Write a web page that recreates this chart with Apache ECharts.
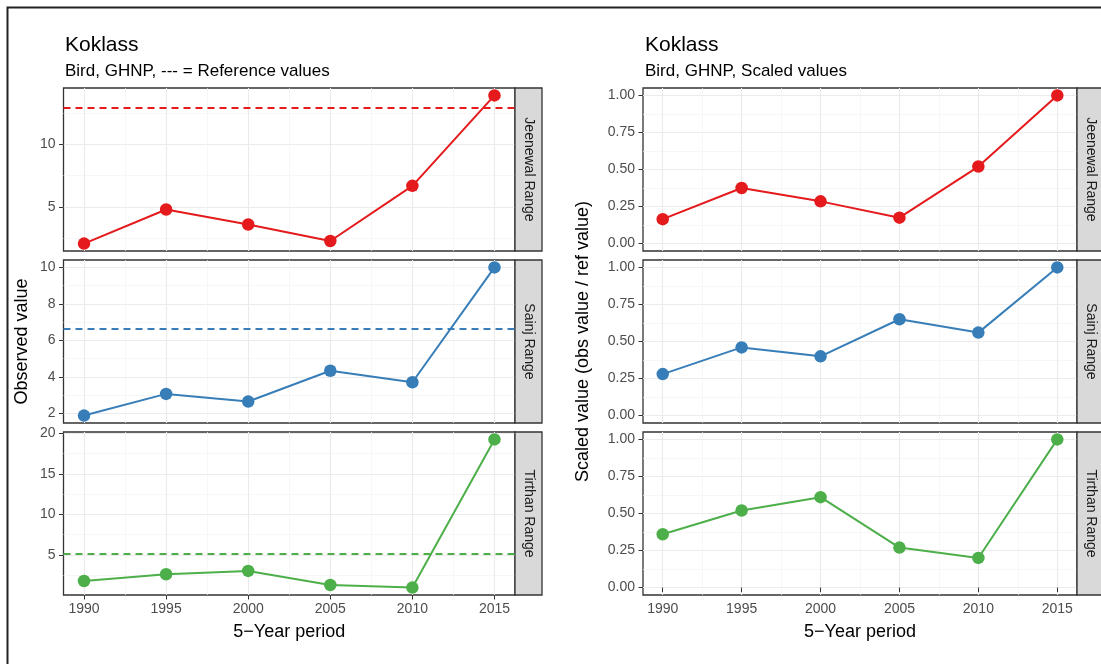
<!DOCTYPE html>
<html><head><meta charset="utf-8">
<script src="https://cdn.jsdelivr.net/npm/echarts@6/dist/echarts.min.js"></script>
<style>html,body{margin:0;padding:0;background:#fff}#c{width:1101px;height:664px}</style>
</head><body><div id="c"></div>
<script>
// ---------- data ----------
const years = [1990, 1995, 2000, 2005, 2010, 2015];
const rangeNames = ['Jeenewal Range', 'Sainj Range', 'Tirthan Range'];
const obsJeenewal = [2.07, 4.79, 3.59, 2.28, 6.68, 13.89];
const obsSainj    = [1.87, 3.06, 2.64, 4.33, 3.70, 10.0];
const obsTirthan  = [1.77, 2.60, 3.01, 1.27, 0.95, 19.27];
const refValues   = [12.93, 6.64, 5.08];
const scaledJeenewal = [0.165, 0.375, 0.285, 0.175, 0.52, 1.0];
const scaledSainj    = [0.28, 0.46, 0.40, 0.65, 0.56, 1.0];
const scaledTirthan  = [0.36, 0.52, 0.61, 0.27, 0.20, 1.0];
const obsTickLabels = [[5, 10], [2, 4, 6, 8, 10], [5, 10, 15, 20]];
const scaledTickLabels = [0, 0.25, 0.5, 0.75, 1.0];
const xTickLabels = years;
const seriesColors = ['#E41A1C', '#377EB8', '#4DAF4A'];

// ---------- layout ----------
const FONT = '"Liberation Sans", Arial, Helvetica, sans-serif';
const panelTops = [88, 260, 432];
const panelH = 163;
const cols = [{x: 63.5, w: 451.5}, {x: 643, w: 434}];
const stripW = 27;

const obsSets = [obsJeenewal, obsSainj, obsTirthan];
const scaledSets = [scaledJeenewal, scaledSainj, scaledTirthan];

const xSpan = years[years.length - 1] - years[0];
const xMin = years[0] - 0.05 * xSpan, xMax = years[years.length - 1] + 0.05 * xSpan;

function minorOf(major, lo, hi) {
  const step = major.length > 1 ? major[1] - major[0] : 1;
  const ext = [major[0] - step].concat(major, [major[major.length - 1] + step]);
  const out = [];
  for (let i = 0; i < ext.length - 1; i++) {
    const m = (ext[i] + ext[i + 1]) / 2;
    if (m > lo && m < hi) out.push(m);
  }
  return out;
}
const xMinor = minorOf(xTickLabels, xMin, xMax);

const grids = [], xAxes = [], yAxes = [], series = [], graphics = [];

function addPanel(col, row, values, lo, hi, yMajor, fmt, ref) {
  const gi = grids.length;
  const c = cols[col];
  grids.push({left: c.x, top: panelTops[row], width: c.w, height: panelH, show: true,
    borderColor: '#333', borderWidth: 1.3, backgroundColor: '#fff', containLabel: false});
  const bottom = row === 2;
  const xi = xAxes.length;
  xAxes.push({type: 'value', gridIndex: gi, min: xMin, max: xMax, position: 'bottom',
    axisLine: {show: false},
    axisTick: {show: bottom, customValues: xTickLabels, length: 4.5, lineStyle: {color: '#333', width: 1}},
    axisLabel: {show: bottom, customValues: xTickLabels, margin: 7, color: '#4d4d4d', fontSize: 14, fontFamily: FONT,
      formatter: v => String(v)},
    splitLine: {show: true, lineStyle: {color: '#ebebeb', width: 1.1}}});
  xAxes.push({type: 'value', gridIndex: gi, min: xMin, max: xMax, position: 'top',
    axisLine: {show: false}, axisTick: {show: false, customValues: xMinor}, axisLabel: {show: false},
    splitLine: {show: true, lineStyle: {color: '#f3f3f3', width: 0.7}}});
  const yi = yAxes.length;
  yAxes.push({type: 'value', gridIndex: gi, min: lo, max: hi, position: 'left',
    axisLine: {show: false},
    axisTick: {show: true, customValues: yMajor, length: 4.5, lineStyle: {color: '#333', width: 1}},
    axisLabel: {show: true, customValues: yMajor, margin: 8, color: '#4d4d4d', fontSize: 14, fontFamily: FONT, formatter: fmt},
    splitLine: {show: true, lineStyle: {color: '#ebebeb', width: 1.1}}});
  yAxes.push({type: 'value', gridIndex: gi, min: lo, max: hi, position: 'right',
    axisLine: {show: false}, axisTick: {show: false, customValues: minorOf(yMajor, lo, hi)}, axisLabel: {show: false},
    splitLine: {show: true, lineStyle: {color: '#f3f3f3', width: 0.7}}});
  const s = {type: 'line', xAxisIndex: xi, yAxisIndex: yi,
    data: years.map((y, i) => [y, values[i]]),
    symbol: 'circle', symbolSize: 12.5, showSymbol: true,
    lineStyle: {color: seriesColors[row], width: 2},
    itemStyle: {color: seriesColors[row]}, z: 3};
  if (ref != null) {
    s.markLine = {silent: true, symbol: 'none', label: {show: false},
      lineStyle: {type: [7, 5], color: seriesColors[row], width: 1.8}, data: [{yAxis: ref}]};
  }
  series.push(s);
  // strip
  const sx = c.x + c.w;
  graphics.push({type: 'rect', shape: {x: sx, y: panelTops[row], width: stripW, height: panelH},
    style: {fill: '#d9d9d9', stroke: '#333', lineWidth: 1.3}, z: 5});
  graphics.push({type: 'text', x: sx + stripW / 2, y: panelTops[row] + panelH / 2, rotation: -Math.PI / 2,
    style: {text: rangeNames[row], fill: '#1a1a1a', font: '14px ' + FONT, align: 'center', verticalAlign: 'middle'}, z: 6});
}

for (let r = 0; r < 3; r++) {
  const v = obsSets[r];
  const mn = Math.min(...v, refValues[r]), mx = Math.max(...v, refValues[r]);
  const pad = 0.05 * (mx - mn);
  addPanel(0, r, v, mn - pad, mx + pad, obsTickLabels[r], val => String(val), refValues[r]);
}
for (let r = 0; r < 3; r++) {
  addPanel(1, r, scaledSets[r], -0.05, 1.05, scaledTickLabels, val => val.toFixed(2), null);
}

// texts
const midY = (panelTops[0] + panelTops[2] + panelH) / 2;
graphics.push({type: 'rect', shape: {x: 7.5, y: 7.5, width: 1200, height: 800},
  style: {fill: 'none', stroke: '#222', lineWidth: 2}, z: 10});
graphics.push({type: 'text', x: 65, y: 45, style: {text: 'Koklass', fill: '#000', font: '21px ' + FONT, align: 'left', verticalAlign: 'middle'}});
graphics.push({type: 'text', x: 65, y: 71, style: {text: 'Bird, GHNP, --- = Reference values', fill: '#000', font: '17px ' + FONT, align: 'left', verticalAlign: 'middle'}});
graphics.push({type: 'text', x: 645, y: 45, style: {text: 'Koklass', fill: '#000', font: '21px ' + FONT, align: 'left', verticalAlign: 'middle'}});
graphics.push({type: 'text', x: 645, y: 71, style: {text: 'Bird, GHNP, Scaled values', fill: '#000', font: '17px ' + FONT, align: 'left', verticalAlign: 'middle'}});
graphics.push({type: 'text', x: 22, y: midY, rotation: Math.PI / 2, style: {text: 'Observed value', fill: '#000', font: '18px ' + FONT, align: 'center', verticalAlign: 'middle'}});
graphics.push({type: 'text', x: 583, y: midY, rotation: Math.PI / 2, style: {text: 'Scaled value (obs value / ref value)', fill: '#000', font: '18px ' + FONT, align: 'center', verticalAlign: 'middle'}});
graphics.push({type: 'text', x: cols[0].x + cols[0].w / 2, y: 632, style: {text: '5\u2212Year period', fill: '#000', font: '18px ' + FONT, align: 'center', verticalAlign: 'middle'}});
graphics.push({type: 'text', x: cols[1].x + cols[1].w / 2, y: 632, style: {text: '5\u2212Year period', fill: '#000', font: '18px ' + FONT, align: 'center', verticalAlign: 'middle'}});

const chart = echarts.init(document.getElementById('c'), null, {renderer: 'canvas'});
chart.setOption({
  animation: false,
  backgroundColor: '#fff',
  grid: grids, xAxis: xAxes, yAxis: yAxes, series: series, graphic: graphics
});
</script></body></html>
